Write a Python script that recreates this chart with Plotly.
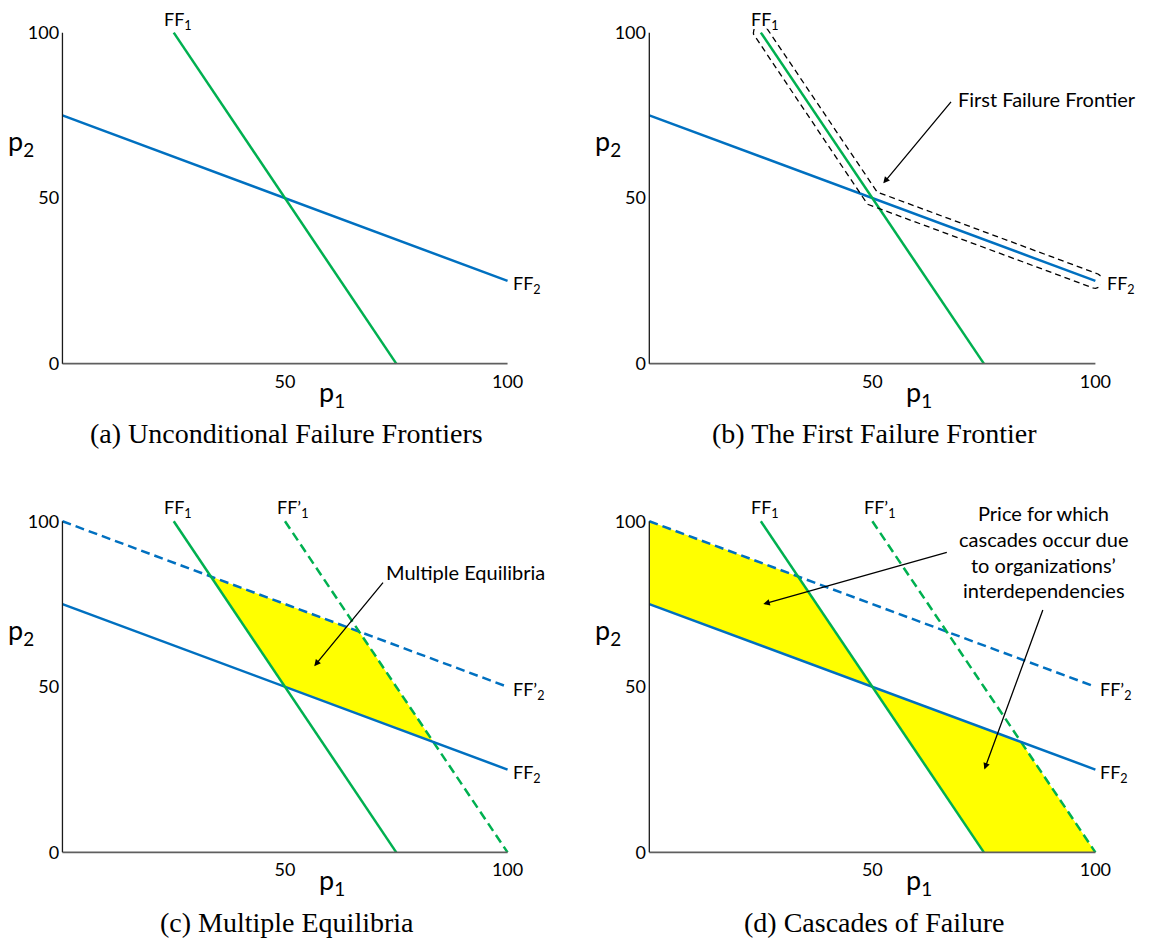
import numpy as np
import plotly.graph_objects as go

W, H = 1151, 947

# ---- data: frontier end points (p1 values, p2 values) ----
FF1_p1 = [25, 75]
FF1_p2 = [100, 0]
FF2_p1 = [0, 100]
FF2_p2 = [75, 25]
FF1s_p1 = [50, 100]   # FF'1
FF1s_p2 = [100, 0]
FF2s_p1 = [0, 100]    # FF'2
FF2s_p2 = [100, 50]

x_tickvals = [50, 100]
y_tickvals = [0, 50, 100]

captions = ["(a) Unconditional Failure Frontiers", "(b) The First Failure Frontier",
            "(c) Multiple Equilibria", "(d) Cascades of Failure"]

GREEN = "#00B050"
BLUE = "#0070C0"
YELLOW = "#FFFF00"
SANS = "Lato"
SERIF = "Liberation Serif"

# page-pixel geometry of each panel: (x at p1=0, x at p1=100, y at p2=0, y at p2=100)
geom = {1: (63, 512, 361, 25), 2: (655, 1105, 361, 25),
        3: (63, 512, 857, 521), 4: (655, 1105, 857, 521)}
PAD = 1.2


def P(px, py):
    return px / W, 1 - py / H


def px2data(k, px, py):
    x0, x1, y0, y1 = geom[k]
    return (px - x0) / (x1 - x0) * 100, (y0 - py) / (y0 - y1) * 100


def data2px(k, x, y):
    x0, x1, y0, y1 = geom[k]
    return x0 + np.asarray(x) * (x1 - x0) / 100, y0 - np.asarray(y) * (y0 - y1) / 100


def line_coef(xs, ys):
    m = (ys[1] - ys[0]) / (xs[1] - xs[0])
    return m, ys[0] - m * xs[0]


def intersect(a, b):
    m1, c1 = line_coef(*a)
    m2, c2 = line_coef(*b)
    x = (c2 - c1) / (m1 - m2)
    return x, m1 * x + c1


FF1 = (FF1_p1, FF1_p2)
FF2 = (FF2_p1, FF2_p2)
FF1s = (FF1s_p1, FF1s_p2)
FF2s = (FF2s_p1, FF2s_p2)

fig = go.Figure()
layout = dict(width=W, height=H, margin=dict(l=0, r=0, t=0, b=0),
              plot_bgcolor="white", paper_bgcolor="white", showlegend=False)

for k in range(1, 5):
    x0, x1, y0, y1 = geom[k]
    sx = (x1 - x0) / 100
    sy = (y0 - y1) / 100
    xa, ya = P(x0 - PAD * sx, y0 + PAD * sy)
    xb, yb = P(x1 + PAD * sx, y1 - PAD * sy)
    sfx = "" if k == 1 else str(k)
    layout["xaxis" + sfx] = dict(domain=[xa, xb], range=[-PAD, 100 + PAD], anchor="y" + sfx,
                                 showgrid=False, zeroline=False, showline=False,
                                 tickvals=x_tickvals, ticks="", ticklabelstandoff=1,
                                 tickfont=dict(family=SANS, size=18, color="black"),
                                 fixedrange=True)
    layout["yaxis" + sfx] = dict(domain=[ya, yb], range=[-PAD, 100 + PAD], anchor="x" + sfx,
                                 showgrid=False, zeroline=False, showline=False,
                                 tickvals=y_tickvals, ticks="", ticklabelstandoff=-3,
                                 tickfont=dict(family=SANS, size=18, color="black"),
                                 fixedrange=True)

fig.update_layout(**layout)


def add_line(k, seg, color, dash="solid"):
    sfx = "" if k == 1 else str(k)
    fig.add_trace(go.Scatter(x=seg[0], y=seg[1], mode="lines",
                             line=dict(color=color, width=2.5, dash=dash),
                             xaxis="x" + sfx, yaxis="y" + sfx, hoverinfo="skip"))


def add_fill(k, xs, ys):
    sfx = "" if k == 1 else str(k)
    fig.add_trace(go.Scatter(x=xs, y=ys, mode="lines", fill="toself", fillcolor=YELLOW,
                             line=dict(width=0, color=YELLOW),
                             xaxis="x" + sfx, yaxis="y" + sfx, hoverinfo="skip"))


# ---- fills ----
A = intersect(FF1, FF2s)
B = intersect(FF1s, FF2s)
C = intersect(FF1s, FF2)
D = intersect(FF1, FF2)
add_fill(3, [A[0], B[0], C[0], D[0], A[0]], [A[1], B[1], C[1], D[1], A[1]])
add_fill(4, [FF2s_p1[0], A[0], D[0], FF2_p1[0], FF2s_p1[0], None,
             D[0], FF1_p1[1], FF1s_p1[1], C[0], D[0]],
         [FF2s_p2[0], A[1], D[1], FF2_p2[0], FF2s_p2[0], None,
          D[1], FF1_p2[1], FF1s_p2[1], C[1], D[1]])

DASH = "9px,5px"
for k in range(1, 5):
    if k >= 3:
        add_line(k, FF2s, BLUE, DASH)
        add_line(k, FF1s, GREEN, DASH)
    add_line(k, FF2, BLUE)
    add_line(k, FF1, GREEN)

# ---- first failure frontier outline (panel b) ----
pts = np.array([data2px(2, FF1_p1[0], FF1_p2[0]), data2px(2, D[0], D[1]),
                data2px(2, FF2_p1[1], FF2_p2[1])], dtype=float)
d = 7.5


def unit(v):
    return v / np.linalg.norm(v)


def normal(v):
    u = unit(v)
    return np.array([u[1], -u[0]])


def offset_side(p, sign):
    n1 = normal(p[1] - p[0]) * sign
    n2 = normal(p[2] - p[1]) * sign
    a0 = p[0] + d * n1
    m = unit(n1 + n2)
    corner = p[1] + m * d / np.dot(m, n1)
    a2 = p[2] + d * n2
    return [a0, corner, a2]


def cap(center, n_from, u_out, n=18):
    out = []
    for t in np.linspace(0, np.pi, n)[1:-1]:
        v = np.cos(t) * n_from + np.sin(t) * u_out
        out.append(center + d * v)
    return out


side1 = offset_side(pts, 1)
side2 = offset_side(pts, -1)
u_end = unit(pts[2] - pts[1])
u_st = unit(pts[0] - pts[1])

outline = [side1[0], side1[1], side1[2]]
outline += cap(pts[2], normal(pts[2] - pts[1]), u_end)
outline += [side2[2], side2[1], side2[0]]
outline += cap(pts[0], -normal(pts[1] - pts[0]), u_st)
outline.append(side1[0])
outline = np.array(outline)
ox, oy = px2data(2, outline[:, 0], outline[:, 1])
fig.add_trace(go.Scatter(x=ox, y=oy, mode="lines",
                         line=dict(color="black", width=1.3, dash="6px,4px"),
                         xaxis="x2", yaxis="y2", hoverinfo="skip"))

# ---- axis lines ----
for k in range(1, 5):
    sfx = "" if k == 1 else str(k)
    fig.add_shape(type="line", xref="x" + sfx, yref="y" + sfx, x0=0, y0=0, x1=100, y1=0,
                  line=dict(color="#5f5f5f", width=1.8))
    fig.add_shape(type="line", xref="x" + sfx, yref="y" + sfx, x0=0, y0=0, x1=0, y1=100,
                  line=dict(color="#1a1a1a", width=1.3))

ann = []
LF = dict(family=SANS, size=18, color="black")
PF = dict(family=SANS, size=27, color="black")

for k in range(1, 5):
    sfx = "" if k == 1 else str(k)
    xr, yr = "x" + sfx, "y" + sfx
    ann.append(dict(x=FF1_p1[0], y=FF1_p2[0], xref=xr, yref=yr, text="FF<sub>1</sub>",
                    showarrow=False, xanchor="center", yanchor="bottom", xshift=4, yshift=-2,
                    font=LF))
    ann.append(dict(x=FF2_p1[1], y=FF2_p2[1], xref=xr, yref=yr, text="FF<sub>2</sub>",
                    showarrow=False, xanchor="left", yanchor="middle",
                    xshift=(10 if k == 2 else 3), yshift=-4, font=LF))
    if k >= 3:
        ann.append(dict(x=FF1s_p1[0], y=FF1s_p2[0], xref=xr, yref=yr, text="FF\u2019<sub>1</sub>",
                        showarrow=False, xanchor="center", yanchor="bottom", xshift=8, yshift=-2,
                        font=LF))
        ann.append(dict(x=FF2s_p1[1], y=FF2s_p2[1], xref=xr, yref=yr, text="FF\u2019<sub>2</sub>",
                        showarrow=False, xanchor="left", yanchor="middle", xshift=3, yshift=-4,
                        font=LF))
    x0, x1, y0, y1 = geom[k]
    # axis name labels
    px_, py_ = P(x0 + 272, y0 + 30)
    ann.append(dict(x=px_, y=py_, xref="paper", yref="paper", text="p<sub>1</sub>",
                    showarrow=False, xanchor="center", yanchor="middle", font=PF))
    px_, py_ = P(x0 - 42, y1 + 112)
    ann.append(dict(x=px_, y=py_, xref="paper", yref="paper", text="p<sub>2</sub>",
                    showarrow=False, xanchor="center", yanchor="middle", font=PF))
    # caption
    px_, py_ = P((x0 + x1) / 2 + 2, y0 + 71)
    ann.append(dict(x=px_, y=py_, xref="paper", yref="paper", text=captions[k - 1],
                    showarrow=False, xanchor="center", yanchor="middle",
                    font=dict(family=SERIF, size=28, color="black")))

# callouts
TF = dict(family=SANS, size=20, color="black")
px_, py_ = P(964, 92)
ann.append(dict(x=px_, y=py_, xref="paper", yref="paper", text="First Failure Frontier",
                showarrow=False, xanchor="left", yanchor="middle", font=TF))
px_, py_ = P(387, 572)
ann.append(dict(x=px_, y=py_, xref="paper", yref="paper", text="Multiple Equilibria",
                showarrow=False, xanchor="left", yanchor="middle", font=TF))
for i, t in enumerate(["Price for which", "cascades occur due", "to organizations\u2019",
                       "interdependencies"]):
    px_, py_ = P(1053, 513 + 26 * i)
    ann.append(dict(x=px_, y=py_, xref="paper", yref="paper", text=t,
                    showarrow=False, xanchor="center", yanchor="middle", font=TF))

arrows = [(2, (891, 178), (960, 95)), (3, (317, 668), (387, 583)),
          (4, (770, 605), (955, 553)), (4, (993, 773), (1052, 612))]
for k, tip, tail in arrows:
    sfx = "" if k == 1 else str(k)
    tx, ty = px2data(k, *tip)
    ann.append(dict(x=tx, y=ty, xref="x" + sfx, yref="y" + sfx, text="", showarrow=True,
                    ax=tail[0] - tip[0], ay=tail[1] - tip[1], arrowhead=2, arrowsize=1,
                    arrowwidth=1.3, arrowcolor="black", standoff=0))

fig.update_layout(annotations=ann)
fig.write_html("out.html", config={"displayModeBar": False},
               post_script="document.body.style.margin='0px';")
